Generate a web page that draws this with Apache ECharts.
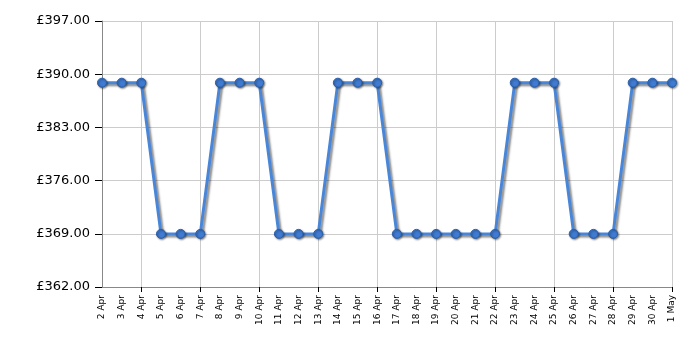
<!DOCTYPE html>
<html><head><meta charset="utf-8">
<script src="https://cdn.jsdelivr.net/npm/echarts@6/dist/echarts.min.js"></script>
<style>html,body{margin:0;padding:0;background:#fff}#c{width:700px;height:350px}</style>
</head><body><div id="c"></div>
<script>
const categories = ["2 Apr","3 Apr","4 Apr","5 Apr","6 Apr","7 Apr","8 Apr","9 Apr","10 Apr","11 Apr","12 Apr","13 Apr","14 Apr","15 Apr","16 Apr","17 Apr","18 Apr","19 Apr","20 Apr","21 Apr","22 Apr","23 Apr","24 Apr","25 Apr","26 Apr","27 Apr","28 Apr","29 Apr","30 Apr","1 May"];
const prices = [388.88,388.88,388.88,368.99,368.99,368.99,388.88,388.88,388.88,368.99,368.99,368.99,388.88,388.88,388.88,368.99,368.99,368.99,368.99,368.99,368.99,388.88,388.88,388.88,368.99,368.99,368.99,388.88,388.88,388.88];
const yMin = 362, yMax = 397, yStep = 7;
const chart = echarts.init(document.getElementById('c'));
const every3 = (i) => (i - 2) % 3 === 0;
chart.setOption({
  animation: false,
  grid: {left: 102, right: 28, top: 21, bottom: 63},
  xAxis: {
    type: 'category', data: categories, boundaryGap: false,
    axisLine: {lineStyle: {color: '#888', width: 1}},
    axisTick: {show: true, interval: every3, length: 5, lineStyle: {color: '#000'}},
    splitLine: {show: true, interval: every3, lineStyle: {color: '#ccc'}},
    axisLabel: {rotate: 90, interval: 0, fontSize: 9, color: '#000', fontFamily: 'DejaVu Sans', margin: 8}
  },
  yAxis: {
    type: 'value', min: yMin, max: yMax, interval: yStep,
    axisLine: {show: true, lineStyle: {color: '#888'}},
    axisTick: {show: true, length: 7, lineStyle: {color: '#000'}},
    splitLine: {show: true, lineStyle: {color: '#ccc'}},
    axisLabel: {fontSize: 13, color: '#000', fontFamily: 'DejaVu Sans', margin: 12, formatter: v => '£' + v.toFixed(2)}
  },
  series: [{
    type: 'line', data: prices, symbol: 'circle', symbolSize: 9,
    lineStyle: {color: '#4a86d8', width: 3, shadowColor: 'rgba(0,0,0,0.45)', shadowBlur: 2, shadowOffsetX: 2, shadowOffsetY: 2},
    itemStyle: {color: '#3f7bd2', borderColor: '#2a5ea8', borderWidth: 1, shadowColor: 'rgba(0,0,0,0.45)', shadowBlur: 2, shadowOffsetX: 1, shadowOffsetY: 1}
  }]
});
</script></body></html>
